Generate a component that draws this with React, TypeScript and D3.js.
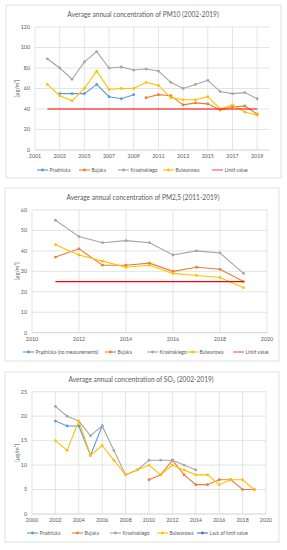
import React, { useRef, useEffect } from "react";
import * as d3 from "d3";

// PM10 (2002-2019)
const pm10Years = [2002, 2003, 2004, 2005, 2006, 2007, 2008, 2009, 2010, 2011, 2012, 2013, 2014, 2015, 2016, 2017, 2018, 2019];
const pm10Pradnicka = [null, 55, 55, 55, 64, 52, 50, 54, null, null, null, null, null, null, null, null, null, null];
const pm10Bujaka = [null, null, null, null, null, null, null, null, 51, 54, 53, 44, 46, 45, 39, 42, 43, 35];
const pm10Krasinskiego = [89, 80, 69, 86, 96, 80, 81, 78, 79, 77, 66, 60, 64, 68, 57, 55, 56, 50];
const pm10Bulwarowa = [64, 53, 48, 60, 77, 59, 60, 60, 66, 63, 51, 49, 49, 52, 40, 44, 37, 34];
const pm10LimitYears = [2002, 2019];
const pm10Limit = [40, 40];

// PM2,5 (2011-2019)
const pm25Years = [2011, 2012, 2013, 2014, 2015, 2016, 2017, 2018, 2019];
const pm25Bujaka = [37, 41, 33, 33, 34, 30, 32, 31, 25];
const pm25Krasinskiego = [55, 47, 44, 45, 44, 38, 40, 39, 29];
const pm25Bulwarowa = [43, 38, 35, 32, 33, 29, 28, 27, 22];
const pm25LimitYears = [2011, 2019];
const pm25Limit = [25, 25];

// SO2 (2002-2019)
const so2Years = pm10Years;
const so2Pradnicka = [19, 18, 18, 12, 18, null, null, null, null, null, null, null, null, null, null, null, null, null];
const so2Bujaka = [null, null, null, null, null, null, null, null, 7, 8, 11, 8, 6, 6, 7, 7, 5, 5];
const so2Krasinskiego = [22, 20, 19, 16, 18, 13, 8, 9, 11, 11, 11, 10, 9, null, null, null, null, null];
const so2Bulwarowa = [15, 13, 19, 12, 14, 11, 8, 9, 10, 8, 10, 9, 8, 8, 6, 7, 7, 5];

const pm10Ticks = [2001, 2003, 2005, 2007, 2009, 2011, 2013, 2015, 2017, 2019];
const yearTicks = [2000, 2002, 2004, 2006, 2008, 2010, 2012, 2014, 2016, 2018, 2020];

const BLUE = "#5b9bd5", ORANGE = "#ed7d31", GRAY = "#a5a5a5", YELLOW = "#ffc000", RED = "#ff0000", DARKBLUE = "#4472c4";
const FONT = "Lato, 'Open Sans', sans-serif";
const TEXT = "#595959";

function drawPanel(svg, p) {
  const g = svg.append("g");
  g.append("rect").attr("x", p.box[0]).attr("y", p.box[1]).attr("width", p.box[2]).attr("height", p.box[3])
    .attr("fill", "#fff").attr("stroke", "#d9d9d9").attr("stroke-width", 0.8);

  const x = d3.scaleLinear().domain(p.xDomain).range(p.xRange);
  const y = d3.scaleLinear().domain(p.yDomain).range(p.yRange);

  // grid
  g.selectAll(".hg").data(y.ticks(p.yCount)).enter().append("line")
    .attr("x1", p.xRange[0]).attr("x2", p.xRange[1])
    .attr("y1", d => y(d)).attr("y2", d => y(d))
    .attr("stroke", d => (d === 0 ? "#bfbfbf" : "#d9d9d9")).attr("stroke-width", 0.7);
  g.selectAll(".vg").data(p.xTicks).enter().append("line")
    .attr("x1", d => x(d)).attr("x2", d => x(d))
    .attr("y1", p.yRange[0]).attr("y2", p.yRange[1])
    .attr("stroke", "#d9d9d9").attr("stroke-width", 0.7);

  // tick labels
  g.selectAll(".yl").data(y.ticks(p.yCount)).enter().append("text")
    .attr("x", p.xRange[0] - 5).attr("y", d => y(d)).attr("dy", "0.35em")
    .attr("text-anchor", "end").attr("font-size", 5.3).attr("fill", TEXT).attr("font-family", FONT)
    .text(d => d);
  g.selectAll(".xl").data(p.xTicks).enter().append("text")
    .attr("x", d => x(d)).attr("y", p.yRange[0] + 6).attr("dy", "0.35em")
    .attr("text-anchor", "middle").attr("font-size", 5.3).attr("fill", TEXT).attr("font-family", FONT)
    .text(d => d);

  // title
  const t = g.append("text").attr("x", p.titleX).attr("y", p.titleY).attr("dy", "0.35em")
    .attr("text-anchor", "middle").attr("font-size", 6.6).attr("fill", TEXT).attr("font-family", FONT);
  t.append("tspan").text(p.title[0]);
  if (p.title.length > 1) {
    t.append("tspan").attr("font-size", 4.5).attr("dy", "0.25em").text(p.title[1]);
    t.append("tspan").attr("dy", "-0.17em").text(p.title[2]);
  }

  // y axis title
  g.append("text").attr("transform", `translate(${p.yTitleX},${(p.yRange[0] + p.yRange[1]) / 2}) rotate(-90)`)
    .attr("text-anchor", "middle").attr("dy", "0.35em").attr("font-size", 5.3).attr("fill", TEXT).attr("font-family", FONT)
    .text("[µg/m³]");

  // series
  const line = d3.line().defined(d => d[1] != null).x(d => x(d[0])).y(d => y(d[1]));
  p.series.forEach(s => {
    const pts = s.years.map((yr, i) => [yr, s.values[i]]);
    g.append("path").datum(pts).attr("d", line).attr("fill", "none")
      .attr("stroke", s.color).attr("stroke-width", s.marker ? 1.1 : 1.2);
    if (s.marker) {
      g.selectAll(null).data(pts.filter(d => d[1] != null)).enter().append("circle")
        .attr("cx", d => x(d[0])).attr("cy", d => y(d[1])).attr("r", 1.4).attr("fill", s.color);
    }
  });

  // legend
  p.legend.forEach((item, i) => {
    const lx = p.legendX[i];
    const ly = p.legendY;
    g.append("line").attr("x1", lx).attr("x2", lx + 11).attr("y1", ly).attr("y2", ly)
      .attr("stroke", item.color).attr("stroke-width", 1.1);
    if (item.marker) g.append("circle").attr("cx", lx + 5.5).attr("cy", ly).attr("r", 1.4).attr("fill", item.color);
    g.append("text").attr("x", lx + 12.5).attr("y", ly).attr("dy", "0.35em")
      .attr("font-size", 4.9).attr("fill", TEXT).attr("font-family", FONT).text(item.name);
  });
}

export default function App() {
  const ref = useRef(null);

  useEffect(() => {
    const svg = d3.select(ref.current);
    svg.selectAll("*").remove();

    drawPanel(svg, {
      box: [6, 5, 275, 173],
      xDomain: [2001, 2020], xRange: [35, 269.5], xTicks: pm10Ticks,
      yDomain: [0, 120], yRange: [150, 27], yCount: 6,
      title: ["Average annual concentration of PM10 (2002-2019)"], titleX: 143, titleY: 15, yTitleX: 17,
      series: [
        { name: "Pradnicka", color: BLUE, years: pm10Years, values: pm10Pradnicka, marker: true },
        { name: "Bujaka", color: ORANGE, years: pm10Years, values: pm10Bujaka, marker: true },
        { name: "Krasinskiego", color: GRAY, years: pm10Years, values: pm10Krasinskiego, marker: true },
        { name: "Bulwarowa", color: YELLOW, years: pm10Years, values: pm10Bulwarowa, marker: true },
        { name: "Limit value", color: RED, years: pm10LimitYears, values: pm10Limit, marker: false },
      ],
      legend: [
        { name: "Pradnicka", color: BLUE, marker: true },
        { name: "Bujaka", color: ORANGE, marker: true },
        { name: "Krasinskiego", color: GRAY, marker: true },
        { name: "Bulwarowa", color: YELLOW, marker: true },
        { name: "Limit value", color: "#ff5050", marker: false },
      ],
      legendX: [37, 79, 118, 163, 212], legendY: 170,
    });

    drawPanel(svg, {
      box: [5, 188, 274, 173],
      xDomain: [2010, 2020], xRange: [32, 267], xTicks: yearTicks.filter(d => d >= 2010),
      yDomain: [0, 60], yRange: [332.7, 210], yCount: 6,
      title: ["Average annual concentration of PM2,5 (2011-2019)"], titleX: 143, titleY: 198, yTitleX: 17,
      series: [
        { name: "Bujaka", color: ORANGE, years: pm25Years, values: pm25Bujaka, marker: true },
        { name: "Krasinskiego", color: GRAY, years: pm25Years, values: pm25Krasinskiego, marker: true },
        { name: "Bulwarowa", color: YELLOW, years: pm25Years, values: pm25Bulwarowa, marker: true },
        { name: "Limit value", color: RED, years: pm25LimitYears, values: pm25Limit, marker: false },
      ],
      legend: [
        { name: "Prądnicka (no measurements)", color: BLUE, marker: true },
        { name: "Bujaka", color: ORANGE, marker: true },
        { name: "Krasinskiego", color: GRAY, marker: true },
        { name: "Bulwarowa", color: YELLOW, marker: true },
        { name: "Limit value", color: "#ff5050", marker: false },
      ],
      legendX: [23, 105, 147, 187, 233], legendY: 352,
    });

    drawPanel(svg, {
      box: [5, 372, 274, 170],
      xDomain: [2000, 2020], xRange: [32, 266], xTicks: yearTicks,
      yDomain: [0, 25], yRange: [514, 391.7], yCount: 5,
      title: ["Average annual concentration of SO", "2", " (2002-2019)"], titleX: 141, titleY: 380, yTitleX: 17,
      series: [
        { name: "Pradnicka", color: BLUE, years: so2Years, values: so2Pradnicka, marker: true },
        { name: "Bujaka", color: ORANGE, years: so2Years, values: so2Bujaka, marker: true },
        { name: "Krasinskiego", color: GRAY, years: so2Years, values: so2Krasinskiego, marker: true },
        { name: "Bulwarowa", color: YELLOW, years: so2Years, values: so2Bulwarowa, marker: true },
      ],
      legend: [
        { name: "Pradnicka", color: BLUE, marker: true },
        { name: "Bujaka", color: ORANGE, marker: true },
        { name: "Krasinskiego", color: GRAY, marker: true },
        { name: "Bulwarowa", color: YELLOW, marker: true },
        { name: "Lack of limit value", color: DARKBLUE, marker: true },
      ],
      legendX: [27, 72, 110, 157, 197], legendY: 533,
    });
  }, []);

  return (
    <svg ref={ref} width={287} height={550}
      style={{ position: "absolute", left: 0, top: 0, background: "#fff" }} />
  );
}
